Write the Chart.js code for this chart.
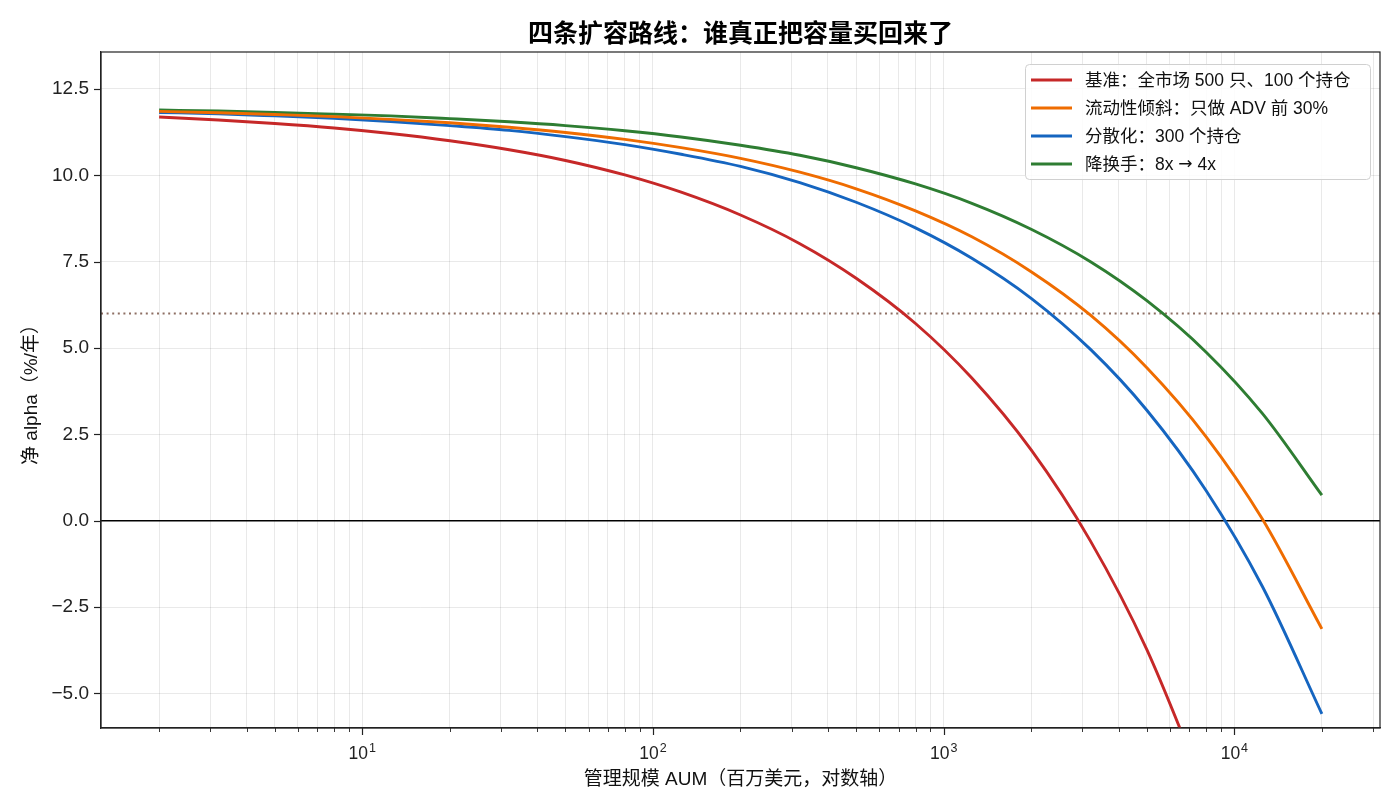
<!DOCTYPE html>
<html>
<head>
<meta charset="utf-8">
<script src="https://cdn.jsdelivr.net/npm/chart.js@4/dist/chart.umd.min.js"></script>
<style>
  html, body { margin: 0; padding: 0; background: #fff; }
  canvas { display: block; }
</style>
</head>
<body>
<canvas id="aumChart" width="1400" height="812"></canvas>
<script>
// --- Datos ---
const aumValues = [2, 3.2, 5, 8, 12.5, 20, 32, 50, 80, 125, 200, 320, 500, 800,
                   1250, 2000, 3200, 5000, 8000, 12500, 20000];

// la curva base sale del eje por debajo de -6 (se corta)
const baselineAlpha = [11.69, 11.60, 11.50, 11.37, 11.21, 11.00, 10.74, 10.43, 10.01, 9.51, 8.85, 8.02, 7.02, 5.71,
                       4.13, 2.05, -0.59, -3.73, -7.90];
const liquidityAlpha = [11.85, 11.81, 11.76, 11.70, 11.62, 11.52, 11.39, 11.24, 11.04, 10.80, 10.49, 10.09, 9.61, 8.97,
                        8.22, 7.21, 5.95, 4.43, 2.43, 0.04, -3.13];
const diversifiedAlpha = [11.82, 11.78, 11.72, 11.65, 11.56, 11.44, 11.30, 11.12, 10.89, 10.61, 10.26, 9.79, 9.22, 8.48,
                          7.60, 6.44, 4.96, 3.20, 0.87, -1.91, -5.59];
const lowTurnoverAlpha = [11.89, 11.86, 11.82, 11.77, 11.72, 11.64, 11.55, 11.44, 11.29, 11.11, 10.87, 10.58, 10.22, 9.75,
                          9.19, 8.44, 7.50, 6.37, 4.88, 3.10, 0.74];

const seriesLabels = [
  '基准：全市场 500 只、100 个持仓',
  '流动性倾斜：只做 ADV 前 30%',
  '分散化：300 个持仓',
  '降换手：8x → 4x'
];
const seriesColors = ['#c62828', '#ef6c00', '#1565c0', '#2e7d32'];

const chartTitle = '四条扩容路线：谁真正把容量买回来了';
const yTickValues = [-5, -2.5, 0, 2.5, 5, 7.5, 10, 12.5];
const xTickValues = [10, 100, 1000, 10000];
const xTickExponents = ['1', '2', '3', '4'];   // se muestran como 10^n
const zeroLine = 0;
const targetLine = 6;

const FONT = '"Liberation Sans", "Noto Sans CJK SC", "DejaVu Sans", sans-serif';
const ARROW_FONT = '"DejaVu Sans", sans-serif';
const INK = '#222';

// Ticks menores del eje log (2..9 × 10^n)
const xMin = 1.262, xMax = 31698;
const xAllTicks = [];
for (let d = 1; d <= 10000; d *= 10) {
  for (let m = 1; m <= 9; m++) {
    const v = m * d;
    if (v >= xMin && v <= xMax) xAllTicks.push(v);
  }
}

const toPoints = arr => arr.map((y, i) => ({ x: aumValues[i], y }));

const datasets = [baselineAlpha, liquidityAlpha, diversifiedAlpha, lowTurnoverAlpha].map((arr, i) => ({
  label: seriesLabels[i],
  data: toPoints(arr),
  borderColor: seriesColors[i],
  backgroundColor: seriesColors[i],
  borderWidth: 2.9,
  pointRadius: 0,
  cubicInterpolationMode: 'monotone',
  fill: false
}));

// --- Plugins propios ---
const refLinesPlugin = {
  id: 'refLines',
  beforeDatasetsDraw(chart) {
    const { ctx, chartArea: a, scales: { y } } = chart;
    ctx.save();
    // linea objetivo punteada
    let py = y.getPixelForValue(targetLine);
    ctx.strokeStyle = '#8d6e63';
    ctx.lineWidth = 1.8;
    ctx.setLineDash([2, 3.6]);
    ctx.beginPath(); ctx.moveTo(a.left, py); ctx.lineTo(a.right, py); ctx.stroke();
    // linea cero
    py = y.getPixelForValue(zeroLine);
    ctx.setLineDash([]);
    ctx.strokeStyle = '#000';
    ctx.lineWidth = 1.3;
    ctx.beginPath(); ctx.moveTo(a.left, py); ctx.lineTo(a.right, py); ctx.stroke();
    ctx.restore();
  }
};

const frameAndTicksPlugin = {
  id: 'frameTicks',
  afterDraw(chart) {
    const { ctx, chartArea: a, scales: { x, y } } = chart;
    ctx.save();
    ctx.strokeStyle = INK;
    ctx.lineWidth = 1.2;
    ctx.strokeRect(a.left, a.top, a.right - a.left, a.bottom - a.top);
    xAllTicks.forEach(v => {
      const px = Math.round(x.getPixelForValue(v)) + 0.5;
      const major = xTickValues.includes(v);
      ctx.lineWidth = major ? 1.2 : 0.9;
      ctx.beginPath(); ctx.moveTo(px, a.bottom); ctx.lineTo(px, a.bottom + (major ? 7 : 4)); ctx.stroke();
    });
    ctx.lineWidth = 1.2;
    yTickValues.forEach(v => {
      const py = Math.round(y.getPixelForValue(v)) + 0.5;
      ctx.beginPath(); ctx.moveTo(a.left, py); ctx.lineTo(a.left - 7, py); ctx.stroke();
    });

    // etiquetas 10^n con exponente elevado
    ctx.fillStyle = INK;
    ctx.textBaseline = 'alphabetic';
    ctx.textAlign = 'left';
    xTickValues.forEach((v, i) => {
      const px = x.getPixelForValue(v);
      ctx.font = '17.5px ' + FONT;
      const wBase = ctx.measureText('10').width;
      ctx.font = '12.5px ' + FONT;
      const wExp = ctx.measureText(xTickExponents[i]).width;
      const left = px - (wBase + 1 + wExp) / 2;
      ctx.font = '17.5px ' + FONT;
      ctx.fillText('10', left, a.bottom + 30.5);
      ctx.font = '12.5px ' + FONT;
      ctx.fillText(xTickExponents[i], left + wBase + 1, a.bottom + 24);
    });

    // titulo centrado sobre el area del grafico
    ctx.fillStyle = '#000';
    ctx.font = 'bold 25px ' + FONT;
    ctx.textAlign = 'center';
    ctx.textBaseline = 'middle';
    ctx.fillText(chartTitle, (a.left + a.right) / 2, 35);
    ctx.restore();
  }
};

const insideLegendPlugin = {
  id: 'insideLegend',
  afterDraw(chart) {
    const { ctx, chartArea: a } = chart;
    const boxW = 345, rowH = 28, boxH = 115;
    const bx = a.right - 10 - boxW, by = a.top + 12;
    ctx.save();
    ctx.fillStyle = 'rgba(255,255,255,0.85)';
    ctx.strokeStyle = '#d0d0d0';
    ctx.lineWidth = 1;
    ctx.beginPath();
    ctx.roundRect(bx + 0.5, by + 0.5, boxW, boxH, 4);
    ctx.fill(); ctx.stroke();
    ctx.textBaseline = 'middle';
    chart.data.datasets.forEach((ds, i) => {
      const ry = by + 16 + i * rowH;
      ctx.strokeStyle = ds.borderColor;
      ctx.lineWidth = 3;
      ctx.beginPath(); ctx.moveTo(bx + 6, ry); ctx.lineTo(bx + 47, ry); ctx.stroke();
      ctx.fillStyle = '#111';
      // la flecha va con otra fuente para que salga a tamaño normal
      let tx = bx + 60;
      ds.label.split(/(→)/).forEach(part => {
        if (!part) return;
        ctx.font = (part === '→' ? '17px ' + ARROW_FONT : '17.5px ' + FONT);
        ctx.fillText(part, tx, ry + 1);
        tx += ctx.measureText(part).width;
      });
    });
    ctx.restore();
  }
};

new Chart(document.getElementById('aumChart').getContext('2d'), {
  type: 'line',
  data: { datasets },
  plugins: [refLinesPlugin, frameAndTicksPlugin, insideLegendPlugin],
  options: {
    responsive: false,
    devicePixelRatio: 1,
    animation: false,
    layout: { padding: { left: 0, right: 20, top: 52, bottom: 0 } },
    plugins: {
      legend: { display: false },
      tooltip: { enabled: false },
      title: { display: false }
    },
    scales: {
      x: {
        type: 'logarithmic',
        min: xMin,
        max: xMax,
        bounds: 'data',
        afterBuildTicks: scale => { scale.ticks = xAllTicks.map(v => ({ value: v })); },
        afterFit: scale => { scale.height = 84; },
        ticks: {
          autoSkip: false,
          maxRotation: 0,
          callback: () => ''
        },
        grid: { color: 'rgba(0,0,0,0.085)', lineWidth: 1, drawTicks: false },
        border: { display: true, color: INK, width: 1.2 },
        title: {
          display: true,
          text: '管理规模 AUM（百万美元，对数轴）',
          color: '#111',
          font: { family: FONT, size: 19 },
          padding: { top: 0, bottom: 20.6 }
        }
      },
      y: {
        type: 'linear',
        min: -6,
        max: 13.57,
        afterBuildTicks: scale => { scale.ticks = yTickValues.map(v => ({ value: v })); },
        afterFit: scale => { scale.width = 101; },
        ticks: {
          padding: 12,
          color: INK,
          font: { family: FONT, size: 19 },
          callback: value => value.toFixed(1).replace('-', '−')
        },
        grid: { color: 'rgba(0,0,0,0.085)', lineWidth: 1, drawTicks: false },
        border: { display: true, color: INK, width: 1.2 },
        title: {
          display: true,
          text: '净 alpha（%/年）',
          color: '#111',
          font: { family: FONT, size: 19 },
          padding: { top: 20.6, bottom: 0 }
        }
      }
    }
  }
});
</script>
</body>
</html>
